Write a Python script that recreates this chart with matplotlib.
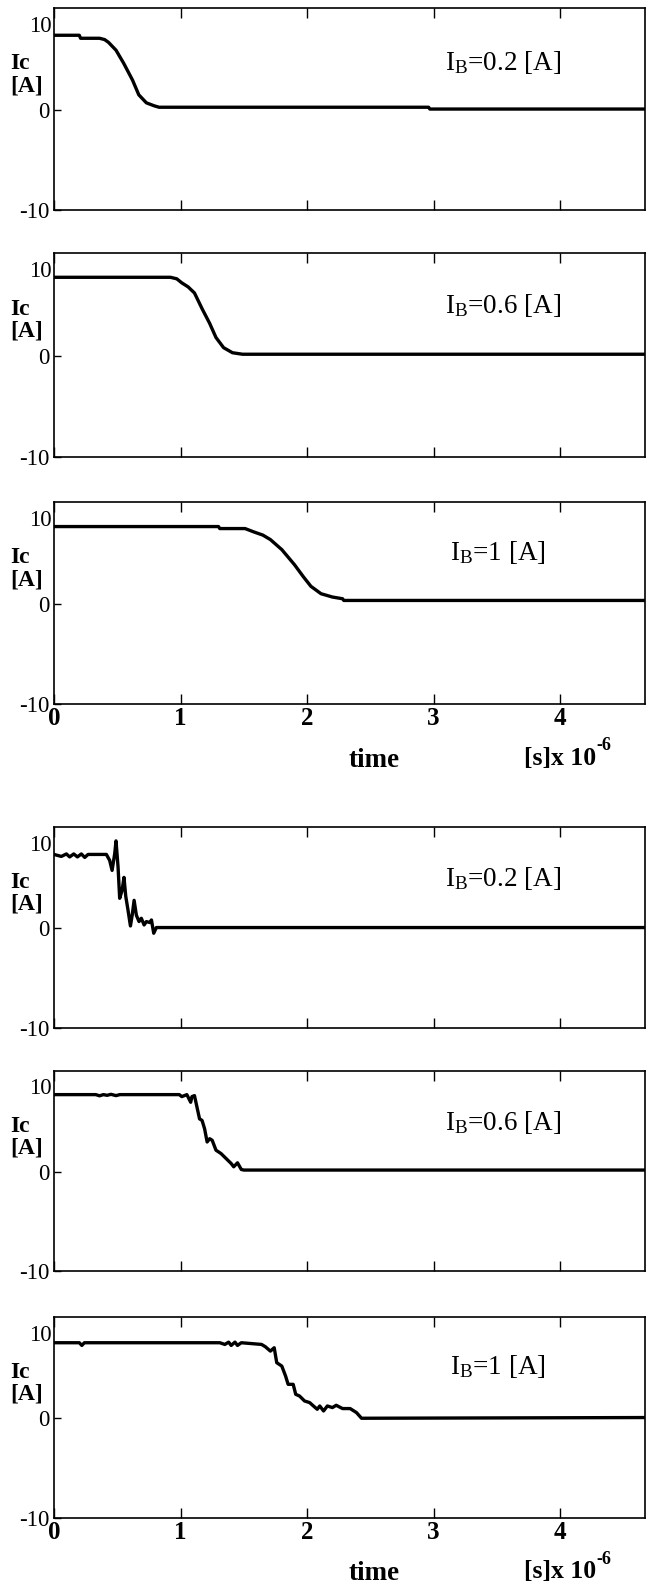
import numpy as np
import matplotlib.pyplot as plt

plt.rcParams['font.family'] = ['Liberation Serif', 'DejaVu Serif']
plt.rcParams['mathtext.fontset'] = 'custom'
plt.rcParams['mathtext.rm'] = 'Liberation Serif'
plt.rcParams['mathtext.bf'] = 'Liberation Serif:bold'

# time in [s] x 1e-6, Ic in [A]
# upper group (smooth)
t_a02 = [0, 0.20, 0.21, 0.36, 0.40, 0.43, 0.49, 0.55, 0.62, 0.67, 0.73, 0.79, 0.83, 2.96, 2.97, 4.67]
ic_a02 = [7.43, 7.43, 7.13, 7.13, 7.0, 6.73, 5.94, 4.65, 2.97, 1.49, 0.69, 0.40, 0.25, 0.25, 0.07, 0.07]

t_a06 = [0, 0.92, 0.97, 1.01, 1.06, 1.11, 1.17, 1.23, 1.28, 1.34, 1.41, 1.49, 4.67]
ic_a06 = [7.75, 7.75, 7.6, 7.2, 6.8, 6.2, 4.65, 3.2, 1.8, 0.8, 0.3, 0.15, 0.15]

t_a1 = [0, 1.30, 1.31, 1.51, 1.58, 1.65, 1.71, 1.80, 1.90, 1.97, 2.03, 2.11, 2.20, 2.28, 2.29, 4.66]
ic_a1 = [7.7, 7.7, 7.5, 7.5, 7.16, 6.85, 6.4, 5.4, 3.9, 2.7, 1.74, 1.0, 0.67, 0.5, 0.33, 0.33]

# lower group (oscillating)
t_b02 = [0, 0.058, 0.098, 0.124, 0.156, 0.185, 0.216, 0.243, 0.269, 0.414, 0.440, 0.459,
         0.480, 0.490, 0.506, 0.519, 0.538, 0.553, 0.567, 0.585, 0.604, 0.620, 0.633,
         0.651, 0.672, 0.690, 0.712, 0.730, 0.757, 0.770, 0.788, 0.809, 4.67]
ic_b02 = [7.4, 7.2, 7.45, 7.15, 7.45, 7.15, 7.45, 7.1, 7.4, 7.4, 6.8, 5.8,
          7.5, 8.76, 6.17, 3.0, 3.8, 5.1, 3.2, 1.8, 0.23, 1.5, 2.8,
          1.3, 0.67, 1.0, 0.33, 0.67, 0.57, 0.83, -0.5, 0.07, 0.07]

t_b06 = [0, 0.33, 0.36, 0.39, 0.42, 0.45, 0.49, 0.52, 0.99, 1.01, 1.05, 1.08, 1.09,
         1.11, 1.13, 1.15, 1.17, 1.19, 1.21, 1.23, 1.25, 1.28, 1.32, 1.36, 1.40,
         1.42, 1.45, 1.48, 1.50, 4.67]
ic_b06 = [7.77, 7.77, 7.65, 7.77, 7.7, 7.8, 7.67, 7.77, 7.77, 7.57, 7.77, 7.0, 7.57,
          7.67, 6.5, 5.33, 5.17, 4.33, 3.0, 3.33, 3.17, 2.17, 1.83, 1.33, 0.83,
          0.5, 0.9, 0.23, 0.17, 0.17]

t_b1 = [0, 0.20, 0.22, 0.24, 1.31, 1.35, 1.38, 1.40, 1.43, 1.45, 1.48, 1.64, 1.67,
        1.71, 1.74, 1.76, 1.80, 1.83, 1.85, 1.89, 1.91, 1.94, 1.98, 2.02, 2.05,
        2.08, 2.10, 2.13, 2.16, 2.20, 2.23, 2.28, 2.34, 2.39, 2.43, 4.66]
ic_b1 = [7.57, 7.57, 7.3, 7.57, 7.57, 7.4, 7.63, 7.3, 7.63, 7.3, 7.57, 7.4, 7.17,
         6.73, 7.07, 5.57, 5.23, 4.23, 3.4, 3.4, 2.4, 2.23, 1.73, 1.57, 1.23,
         0.9, 1.23, 0.73, 1.23, 1.07, 1.3, 0.97, 0.97, 0.57, 0.0, 0.07]

series = [(t_a02, ic_a02), (t_a06, ic_a06), (t_a1, ic_a1),
          (t_b02, ic_b02), (t_b06, ic_b06), (t_b1, ic_b1)]
ib_labels = ['0.2', '0.6', '1', '0.2', '0.6', '1']
ib_pos = [(3.09, 4.75), (3.09, 5.0), (3.13, 5.1), (3.09, 5.0), (3.09, 5.0), (3.13, 5.2)]

W, H = 647, 1587
fig = plt.figure(figsize=(W / 100, H / 100), dpi=100)

# panel tops / bottoms in pixels
boxes = [(8, 210), (253, 457), (502, 704), (827, 1028), (1071, 1271), (1317, 1518)]
left_px, right_px = 54, 645

for i, ((top, bot), (t, ic)) in enumerate(zip(boxes, series)):
    ax = fig.add_axes([left_px / W, 1 - bot / H, (right_px - left_px) / W, (bot - top) / H])
    ax.plot(t, ic, color='black', lw=2.4, solid_joinstyle='round')
    ax.set_xlim(0, 4.67)
    ax.set_ylim(-10, 10.15)
    for sp in ax.spines.values():
        sp.set_linewidth(1.2)

    ax.set_xticks([0, 1, 2, 3, 4])
    ax.tick_params(axis='x', direction='in', top=True, bottom=True, length=7.5, width=1.0, pad=2)
    ax.set_yticks([-10, 0])
    ax.set_yticklabels(['-10', '0'], fontsize=16.5)
    ax.tick_params(axis='y', direction='in', left=True, right=False, length=5, width=1.0, pad=3)
    ax.text(-0.004, 0.91, '10', transform=ax.transAxes, ha='right', va='center', fontsize=16.5)

    if i in (2, 5):
        ax.set_xticklabels(['0', '1', '2', '3', '4'], fontsize=18, fontweight='bold')
        ax.text(2.53, -0.278, 'time', transform=ax.get_xaxis_transform(),
                ha='center', va='center', fontsize=19.5, fontweight='bold')
        unit = ax.text(3.71, -0.30, '[s]x 10', transform=ax.get_xaxis_transform(),
                       ha='left', va='baseline', fontsize=18.5, fontweight='bold')
        ax.annotate('-6', xy=(1, 1), xycoords=unit, xytext=(0.5, 0.5),
                    textcoords='offset points', ha='left', va='center',
                    fontsize=13, fontweight='bold')
    else:
        ax.set_xticklabels([])

    ax.text(-0.0745, 0.67, 'Ic\n[A]', transform=ax.transAxes, ha='left', va='center',
            fontsize=17, fontweight='bold', linespacing=1.05)
    x, y = ib_pos[i]
    ax.text(x, y, r'$\mathregular{I_B}$=' + ib_labels[i] + ' [A]', ha='left', va='center', fontsize=19.5)

fig.savefig('out.png', dpi=100, facecolor='white')
